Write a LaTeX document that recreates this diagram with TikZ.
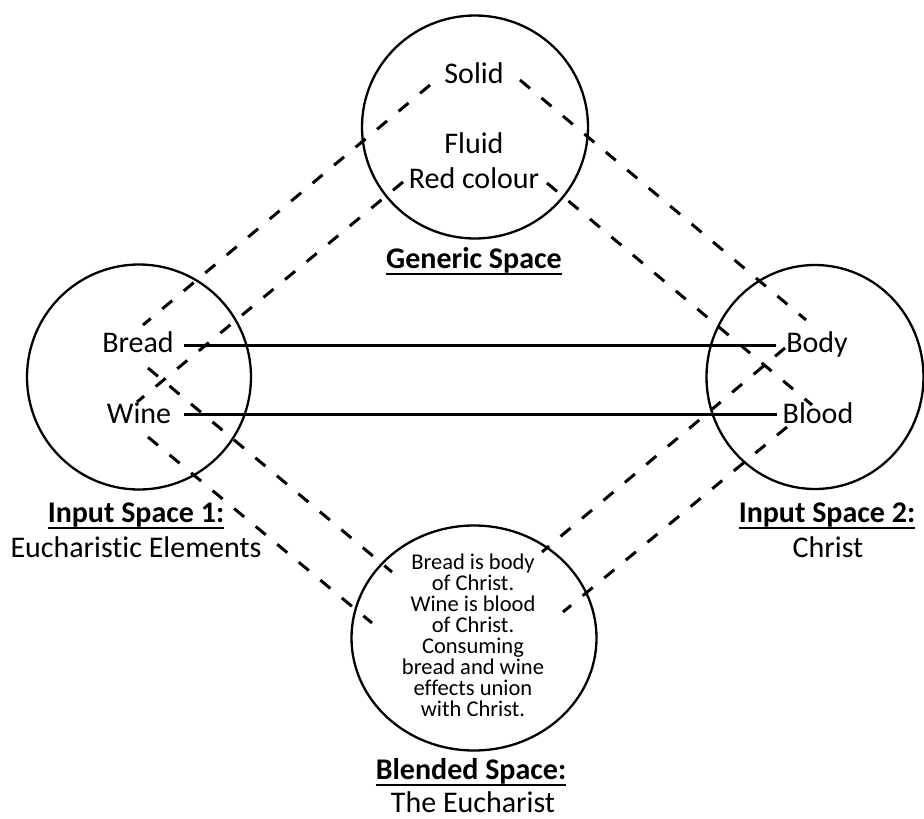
\documentclass[tikz,border=0pt]{standalone}
\usepackage{fontspec}
\setmainfont[Ligatures=NoCommon]{Carlito}
\usetikzlibrary{shapes.geometric}

\begin{document}
\begin{tikzpicture}[
      x=1pt, y=-1pt,
      espaco/.style={ellipse, draw, line width=2.3pt, inner sep=0pt},
      rotulo/.style={inner sep=0pt, anchor=base, font=\fontsize{30}{36}\selectfont},
      titulo/.style={rotulo, font=\fontsize{30}{36}\selectfont\bfseries},
      sublinhado/.style={line width=2pt},
      ligacao/.style={line width=3pt},
      tracejado/.style={line width=3pt, dash pattern=on 13pt off 15pt}
    ]
    \useasboundingbox (0,0) rectangle (924,819);

    % Espaco generico
    \node[espaco, minimum width=226pt, minimum height=223pt] (generic) at (475,127) {};
    \node[rotulo] (solid) at (474,83) {Solid};
    \node[rotulo] (fluid) at (474,153) {Fluid};
    \node[rotulo] (red) at (474,188) {Red colour};
    \node[titulo] (genericlabel) at (474,268) {Generic Space};

    % Espaco de entrada 1
    \node[espaco, minimum width=224pt, minimum height=225pt] (input1) at (139,377) {};
    \node[rotulo] (bread) at (138,352) {Bread};
    \node[rotulo] (wine) at (139,423) {Wine};
    \node[titulo] (input1label) at (136,522) {Input Space 1:};
    \node[rotulo] (elements) at (136,557) {Eucharistic Elements};

    % Espaco de entrada 2
    \node[espaco, minimum width=217pt, minimum height=224pt] (input2) at (815,377) {};
    \node[rotulo] (body) at (817,352) {Body};
    \node[rotulo] (blood) at (818,423) {Blood};
    \node[titulo] (input2label) at (827,522) {Input Space 2:};
    \node[rotulo] (christ) at (828,557) {Christ};

    % Espaco mesclado
    \node[espaco, minimum width=245pt, minimum height=225pt] (blend) at (474,638) {};
    \node[inner sep=0pt, anchor=north, align=center,
          font=\fontsize{22.5}{21}\selectfont] (blendtext) at (473,554)
      {Bread is body\\ of Christ.\\ Wine is blood\\ of Christ.\\ Consuming\\
       bread and wine\\ effects union\\ with Christ.};
    \node[titulo] (blendlabel) at (471,779) {Blended Space:};
    \node[rotulo] (eucharist) at (473,812) {The Eucharist};

    % Sublinhados dos titulos
    \foreach \t in {genericlabel, input1label, input2label, blendlabel}
      \draw[sublinhado] ([yshift=-1pt]\t.south west) -- ([yshift=-1pt]\t.south east);

    % Correspondencias entre as entradas
    \draw[ligacao] ([shift={(10,-6.5)}]bread.base east) -- ([shift={(-10,-6.5)}]body.base west);
    \draw[ligacao] ([shift={(13,-8.5)}]wine.base east) -- ([shift={(-6,-8.5)}]blood.base west);

    % Projecoes tracejadas
    \coordinate (g1) at (430,85);
    \coordinate (g2) at (403,182);
    \coordinate (g3) at (520,80);
    \coordinate (g4) at (547,183);
    \coordinate (e1) at (143,325);
    \coordinate (e2) at (137,402);
    \coordinate (e3) at (806,320);
    \coordinate (e4) at (812,405);
    \coordinate (e5) at (148,368);
    \coordinate (e6) at (148,437);
    \coordinate (e7) at (785,348);
    \coordinate (e8) at (787,427);
    \coordinate (m5) at (392,572);
    \coordinate (m6) at (372,623);
    \coordinate (m7) at (542,552);
    \coordinate (m8) at (563,612);
    \foreach \a/\b in {g1/e1, g2/e2, g3/e3, g4/e4, e5/m5, e6/m6, e7/m7, e8/m8}
      \draw[tracejado] (\a) -- (\b);
  \end{tikzpicture}
\end{document}
